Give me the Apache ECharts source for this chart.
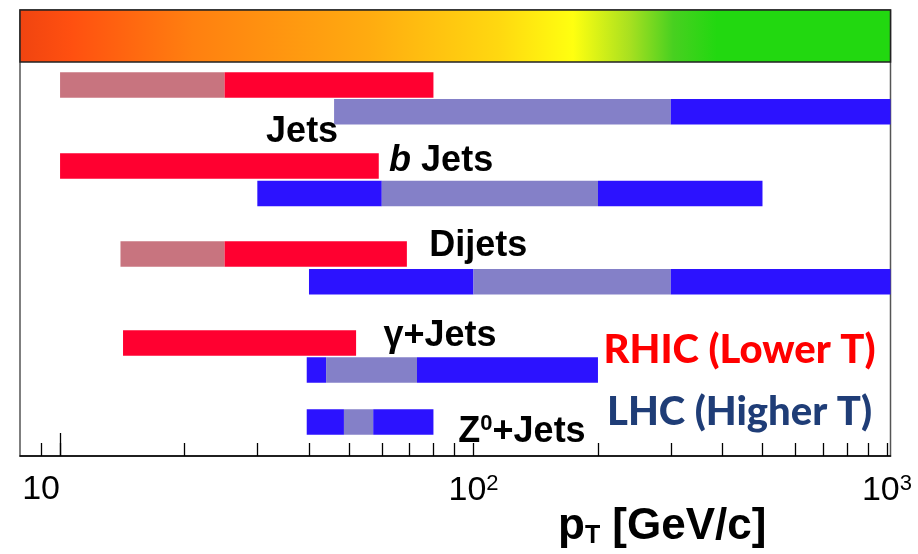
<!DOCTYPE html>
<html>
<head>
<meta charset="utf-8">
<script src="https://cdn.jsdelivr.net/npm/echarts@6/dist/echarts.min.js"></script>
<style>
html,body{margin:0;padding:0;background:#fff;}
#chart{width:918px;height:554px;}
</style>
</head>
<body>
<div id="chart"></div>
<script>
// ---- data ----
const xMin = 8;
const xMax = 1020;
const majorLabels = [10, 100, 1000];
const tickValues = [9, 10, 20, 30, 40, 50, 60, 70, 80, 90, 100, 200, 300, 400, 500, 600, 700, 800, 900, 1000];
const longTickValue = 10;
// row vertical positions (arbitrary units, top = 0)
const rowNames = ['Jets RHIC', 'Jets LHC', 'b Jets RHIC', 'b Jets LHC', 'Dijets RHIC', 'Dijets LHC', 'gamma+Jets RHIC', 'gamma+Jets LHC', 'Z0+Jets LHC'];
const rowPos = [7.5, 10.17, 15.6, 18.35, 24.4, 27.17, 33.3, 36.0, 41.2];
// segments: [row index, pT start, pT end, kind]
const jetsSegs = [[0, 10, 25, 'rhicLow'], [0, 25, 80, 'rhic'], [1, 46, 300, 'lhcLow'], [1, 300, 1020, 'lhc']];
const bJetsSegs = [[2, 10, 59, 'rhic'], [3, 30, 60, 'lhc'], [3, 60, 200, 'lhcLow'], [3, 200, 500, 'lhc']];
const dijetSegs = [[4, 14, 25, 'rhicLow'], [4, 25, 69, 'rhic'], [5, 40, 100, 'lhc'], [5, 100, 300, 'lhcLow'], [5, 300, 1020, 'lhc']];
const gammaSegs = [[6, 14.2, 52, 'rhic'], [7, 39.5, 44, 'lhc'], [7, 44, 73, 'lhcLow'], [7, 73, 200, 'lhc']];
const zSegs = [[8, 39.5, 48.6, 'lhc'], [8, 48.6, 57.2, 'lhcLow'], [8, 57.2, 80, 'lhc']];
const bandRange = [0, 5.2];
const yRange = [0, 44.6];
// text labels: [text key, pT, row-position]
const procLabels = [['Jets', 38.5, 12.2], ['bJets', 83.5, 15.1], ['Dijets', 102.7, 23.6], ['gamma', 83, 32.6], ['Z0', 131, 42.2]];
const legendLabels = [['RHIC (Lower T)', 440, 34.0], ['LHC (Higher T)', 440, 40.2]];

// ---- styles ----
const kindColor = {rhicLow: '#c8747f', rhic: '#ff0030', lhcLow: '#8480c8', lhc: '#2c12ff'};
const allSegs = [].concat(jetsSegs, bJetsSegs, dijetSegs, gammaSegs, zSegs);

const chart = echarts.init(document.getElementById('chart'));
const fam = 'Liberation Sans, Arial, sans-serif';
const noBorder = {textBorderWidth: 0, textBorderColor: 'transparent', textShadowBlur: 0};
const procRich = {
  n: Object.assign({fontSize: 36, fontWeight: 'bold', color: '#000', fontFamily: fam}, noBorder),
  i: Object.assign({fontSize: 36, fontWeight: 'bold', fontStyle: 'italic', color: '#000', fontFamily: fam}, noBorder),
  s: Object.assign({fontSize: 22, fontWeight: 'bold', color: '#000', fontFamily: fam, padding: [0, 0, 16, 0]}, noBorder)
};
const procText = {Jets: '{n|Jets}', bJets: '{i|b}{n| Jets}', Dijets: '{n|Dijets}', gamma: '{n|γ+Jets}', Z0: '{n|Z}{s|0}{n|+Jets}'};

chart.setOption({
  animation: false,
  title: {
    text: '{b|p}{t|T}{b| [GeV/c]}',
    left: 553, top: 499,
    textStyle: {
      rich: {
        b: {fontSize: 44, fontWeight: 'bold', color: '#000', fontFamily: fam},
        t: {fontSize: 25, fontWeight: 'bold', color: '#000', fontFamily: fam, padding: [20, 0, 0, 0]}
      }
    }
  },
  grid: {left: 20, right: 27.5, top: 10, bottom: 98, show: true, borderColor: '#555', borderWidth: 1.5, backgroundColor: '#fff'},
  xAxis: {
    type: 'log', logBase: 10, min: xMin, max: xMax, position: 'bottom',
    axisLine: {show: true, onZero: false, lineStyle: {color: '#000', width: 1.5}},
    axisTick: {show: true, inside: true, length: 13, customValues: tickValues, lineStyle: {color: '#000', width: 1.3}},
    minorTick: {show: false},
    splitLine: {show: false},
    axisLabel: {
      show: true, margin: 17, customValues: majorLabels,
      formatter: function (v) {
        if (v === 10) return '{l|10}';
        if (v === 100) return '{n|10}{s|2}';
        return '{n|10}{s|3}';
      },
      rich: {
        l: {fontSize: 34, color: '#000', fontFamily: fam, padding: [0, 38, 0, 0]},
        n: {fontSize: 34, color: '#000', fontFamily: fam},
        s: {fontSize: 22, color: '#000', fontFamily: fam, padding: [0, 0, 14, 0]}
      }
    }
  },
  yAxis: {type: 'value', min: yRange[0], max: yRange[1], inverse: true, show: false, splitLine: {show: false}},
  series: [{
    type: 'custom',
    name: 'band',
    data: [[xMin, xMax, bandRange[0], bandRange[1]]],
    encode: {x: [0, 1], y: [2, 3]},
    renderItem: function (params, api) {
      const p0 = api.coord([api.value(0), api.value(2)]);
      const p1 = api.coord([api.value(1), api.value(3)]);
      return {
        type: 'rect',
        shape: {x: p0[0], y: p0[1], width: p1[0] - p0[0], height: p1[1] - p0[1]},
        style: {
          stroke: '#222', lineWidth: 1.5,
          fill: new echarts.graphic.LinearGradient(0, 0, 1, 0, [
            {offset: 0, color: '#f04410'},
            {offset: 0.06, color: '#ff5010'},
            {offset: 0.2, color: '#ff8010'},
            {offset: 0.4, color: '#ffab10'},
            {offset: 0.55, color: '#ffd810'},
            {offset: 0.635, color: '#ffff10'},
            {offset: 0.7, color: '#a8e020'},
            {offset: 0.75, color: '#48d020'},
            {offset: 0.8, color: '#22d810'},
            {offset: 1, color: '#22d810'}
          ])
        }
      };
    },
    markLine: {
      silent: true, symbol: 'none', label: {show: false},
      lineStyle: {color: '#000', width: 1.3, type: 'solid'},
      data: [[{coord: [longTickValue, yRange[1]]}, {coord: [longTickValue, yRange[1] - 2.3]}]]
    }
  }, {
    type: 'custom',
    name: 'ranges',
    data: allSegs.map(function (s) { return [s[1], s[2], rowPos[s[0]], s[3]]; }),
    encode: {x: [0, 1], y: 2},
    renderItem: function (params, api) {
      const a = api.coord([api.value(0), api.value(2)]);
      const b = api.coord([api.value(1), api.value(2)]);
      const h = api.size([0, 2.55])[1];
      const kind = allSegs[params.dataIndex][3];
      return {
        type: 'rect',
        shape: {x: a[0], y: a[1] - h / 2, width: b[0] - a[0], height: h},
        style: {fill: kindColor[kind], stroke: null}
      };
    }
  }, {
    type: 'scatter',
    name: 'process labels',
    symbolSize: 0,
    itemStyle: {color: '#000', opacity: 1},
    data: procLabels.map(function (l) { return {value: [l[1], l[2]], key: l[0]}; }),
    label: Object.assign({
      show: true, position: 'inside', color: '#000',
      formatter: function (p) { return procText[p.data.key]; },
      rich: procRich
    }, noBorder)
  }, {
    type: 'scatter',
    name: 'legend labels',
    symbolSize: 0,
    itemStyle: {color: '#000', opacity: 1},
    data: legendLabels.map(function (l, i) { return {value: [l[1], l[2]], name: l[0], idx: i}; }),
    label: Object.assign({
      show: true, position: 'inside', color: '#000',
      formatter: function (p) { return p.data.idx === 0 ? '{r|' + p.name + '}' : '{b|' + p.name + '}'; },
      rich: {
        r: Object.assign({fontSize: 40, fontWeight: 900, color: '#ff0000', fontFamily: 'Lato, Open Sans, sans-serif'}, noBorder),
        b: Object.assign({fontSize: 40, fontWeight: 900, color: '#1f3d77', fontFamily: 'Lato, Open Sans, sans-serif'}, noBorder)
      }
    }, noBorder)
  }]
});
</script>
</body>
</html>
